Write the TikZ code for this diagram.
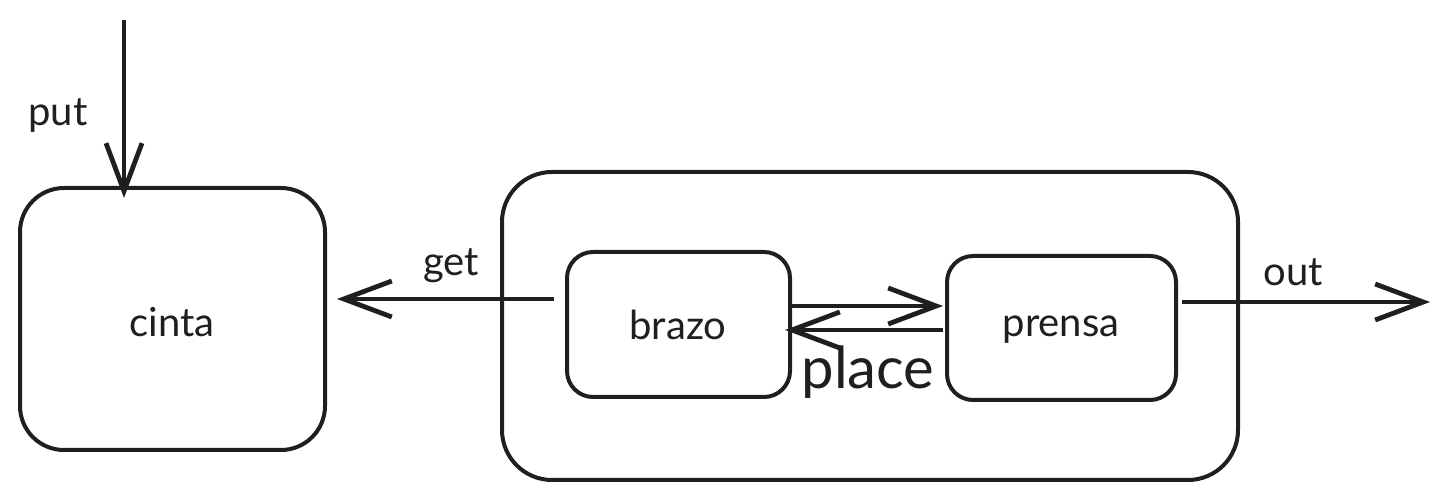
\documentclass[tikz,border=0pt]{standalone}
\usepackage{fontspec}
\setmainfont{Lato}
\usetikzlibrary{arrows.meta,calc}
\begin{document}
\begin{tikzpicture}[x=0.5pt,y=-0.5pt,
  box/.style={draw=black!88,line width=2pt,rounded corners=22pt,inner sep=0pt},
  arr/.style={draw=black!88,line width=2.4pt,-{Straight Barb[length=24pt,width=18pt,line width=2.4pt]}},
  lbl/.style={font=\fontsize{20}{22}\selectfont,inner sep=0pt,text=black!88},
  biglbl/.style={font=\fontsize{29}{31}\selectfont,inner sep=0pt,text=black!88}]
\useasboundingbox (0,0) rectangle (1450,501);
\node[box,minimum width=152.5pt,minimum height=131pt] (cinta) at (172.5,319) {};
\node[box,rounded corners=25pt,minimum width=368pt,minimum height=154pt] (outer) at (870,326) {};
\node[box,rounded corners=13pt,minimum width=111.5pt,minimum height=72.5pt] (brazo) at (678.5,324.5) {};
\node[box,rounded corners=13pt,minimum width=114.5pt,minimum height=72pt] (prensa) at (1061.5,328) {};
\node[lbl] (tcinta) at (172,322) {cinta};
\node[lbl] (tbrazo) at (678,325) {brazo};
\node[lbl] (tprensa) at (1061,330) {prensa};
\coordinate (puttop) at (124,20);
\coordinate (outend) at (1430,302);
\draw[arr] (puttop) -- ([yshift=-6pt]cinta.north -| puttop);
\node[lbl] (tput) at (58,116) {put};
\draw[arr] ([shift={(-11,-25.5)}]brazo.west) -- ([shift={(10,-20)}]cinta.east);
\node[lbl] (tget) at (451,266) {get};
\draw[arr] ([shift={(-3,-18.5)}]brazo.east) -- ([shift={(-2,-22)}]prensa.west);
\draw[arr] ([shift={(-2,2)}]prensa.west) -- ([shift={(-7,5.5)}]brazo.east);
\node[biglbl] (tplace) at (868,372) {place};
\draw[arr] ([shift={(4,-26)}]prensa.east) -- (outend);
\node[lbl] (tout) at (1293,272) {out};
\end{tikzpicture}
\end{document}
